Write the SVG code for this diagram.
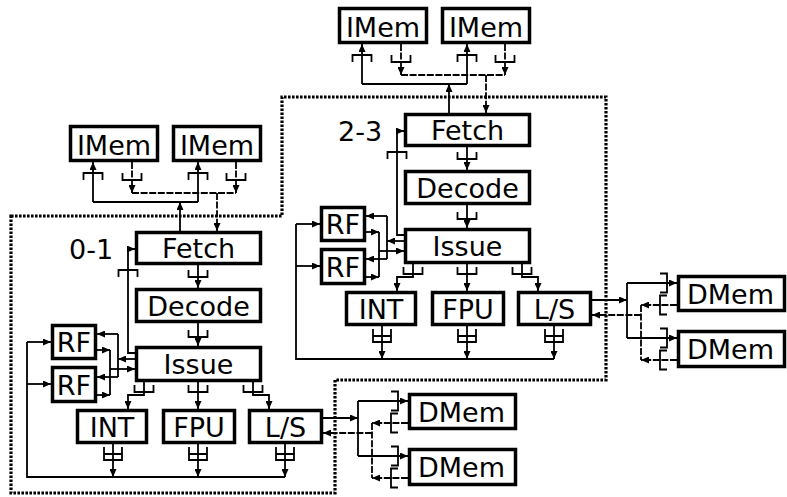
<svg xmlns="http://www.w3.org/2000/svg" xmlns:xlink="http://www.w3.org/1999/xlink" width="787" height="497" viewBox="0 0 787 497">
<style>
.box{fill:#fff;stroke:#000;stroke-width:3.5}
.t{font-family:"DejaVu Sans","Liberation Sans",sans-serif;font-size:27px;fill:#000;text-anchor:middle}
.lbl{font-family:"DejaVu Sans","Liberation Sans",sans-serif;font-size:27px;fill:#000}
.ln{fill:none;stroke:#000;stroke-width:1.8}
.ds{stroke-dasharray:7 1.6}
.ar{marker-end:url(#ah)}
.border{fill:none;stroke:#000;stroke-width:3.2;stroke-dasharray:2.6 1.4}
</style>
<defs>
<marker id="ah" viewBox="0 0 8 7" refX="8" refY="3.5" markerWidth="8" markerHeight="7" orient="auto" markerUnits="userSpaceOnUse"><path d="M0,0L8,3.5L0,7z" fill="#000" stroke="none"/></marker>
<path id="bD" d="M-9.5,-7V0H9.5V-7"/>
<path id="bU" d="M-9.5,7V0H9.5V7"/>
<path id="bR" d="M-7,-9.5H0V9.5H-7"/>
<path id="bL" d="M7,-9.5H0V9.5H7"/>
<path id="bD2" d="M-9,-13V0H9V-13M-9,-6H9"/>
</defs>
<rect width="787" height="497" fill="#fff"/>
<polygon class="border" points="11,216 282,216 282,97 606,97 606,380 335,380 335,493 11,493"/>

<g id="connectors">
<g id="conn01">
<path class="ln ar" d="M180,231V202"/>
<path class="ln" d="M93,202H198"/>
<path class="ln ar" d="M93,202V162"/>
<path class="ln ar" d="M198,202V162"/>
<use href="#bU" class="ln" x="93" y="173"/>
<use href="#bU" class="ln" x="198" y="173"/>
<path class="ln ds ar" d="M132,162V193"/>
<path class="ln ds ar" d="M236,162V193"/>
<path class="ln ds" d="M132,193H236"/>
<path class="ln ds ar" d="M217,193V231"/>
<use href="#bD" class="ln" x="132" y="180"/>
<use href="#bD" class="ln" x="236" y="180"/>
<path class="ln ar" d="M198,265V288"/>
<use href="#bD" class="ln" x="198" y="277"/>
<path class="ln ar" d="M198,323V346"/>
<use href="#bD" class="ln" x="198" y="337"/>
<path class="ln ar" d="M135,353H128V249H135"/>
<use href="#bU" class="ln" x="128" y="270"/>
<path class="ln ar" d="M135,359H118"/>
<path class="ln" d="M118,334V377"/>
<path class="ln ar" d="M118,334H97"/>
<path class="ln ar" d="M118,377H97"/>
<path class="ln ar" d="M97,350H110"/>
<path class="ln ar" d="M97,395H110"/>
<path class="ln" d="M110,350V395"/>
<path class="ln ar" d="M110,369H135"/>
<path class="ln ar" d="M144,382V395H128V409"/>
<path class="ln ar" d="M198,382V409"/>
<path class="ln ar" d="M253,382V395H269V409"/>
<use href="#bD" class="ln" x="144" y="392"/>
<use href="#bD" class="ln" x="198" y="392"/>
<use href="#bD" class="ln" x="253" y="392"/>
<path class="ln ar" d="M113,444V477"/>
<path class="ln ar" d="M198,444V477"/>
<path class="ln ar" d="M285,444V477"/>
<use href="#bD2" class="ln" x="113" y="460"/>
<use href="#bD2" class="ln" x="198" y="460"/>
<use href="#bD2" class="ln" x="285" y="460"/>
<path class="ln" d="M285,477H27V342"/>
<path class="ln ar" d="M27,342H51"/>
<path class="ln ar" d="M27,384H51"/>
<path class="ln ar" d="M323,418H358"/>
<path class="ln" d="M358,401V456"/>
<path class="ln ar" d="M358,401H408"/>
<path class="ln ar" d="M358,456H408"/>
<use href="#bR" class="ln" x="398" y="401"/>
<use href="#bR" class="ln" x="398" y="456"/>
<path class="ln ds ar" d="M408,423H372"/>
<path class="ln ds ar" d="M408,478H372"/>
<path class="ln ds" d="M372,423V478"/>
<path class="ln ds ar" d="M372,433H323"/>
<use href="#bL" class="ln" x="391" y="423"/>
<use href="#bL" class="ln" x="391" y="478"/>
</g>
<g id="conn23" transform="translate(269,-118)">
<path class="ln ar" d="M180,231V202"/>
<path class="ln" d="M93,202H198"/>
<path class="ln ar" d="M93,202V162"/>
<path class="ln ar" d="M198,202V162"/>
<use href="#bU" class="ln" x="93" y="173"/>
<use href="#bU" class="ln" x="198" y="173"/>
<path class="ln ds ar" d="M132,162V193"/>
<path class="ln ds ar" d="M236,162V193"/>
<path class="ln ds" d="M132,193H236"/>
<path class="ln ds ar" d="M217,193V231"/>
<use href="#bD" class="ln" x="132" y="180"/>
<use href="#bD" class="ln" x="236" y="180"/>
<path class="ln ar" d="M198,265V288"/>
<use href="#bD" class="ln" x="198" y="277"/>
<path class="ln ar" d="M198,323V346"/>
<use href="#bD" class="ln" x="198" y="337"/>
<path class="ln ar" d="M135,353H128V249H135"/>
<use href="#bU" class="ln" x="128" y="270"/>
<path class="ln ar" d="M135,359H118"/>
<path class="ln" d="M118,334V377"/>
<path class="ln ar" d="M118,334H97"/>
<path class="ln ar" d="M118,377H97"/>
<path class="ln ar" d="M97,350H110"/>
<path class="ln ar" d="M97,395H110"/>
<path class="ln" d="M110,350V395"/>
<path class="ln ar" d="M110,369H135"/>
<path class="ln ar" d="M144,382V395H128V409"/>
<path class="ln ar" d="M198,382V409"/>
<path class="ln ar" d="M253,382V395H269V409"/>
<use href="#bD" class="ln" x="144" y="392"/>
<use href="#bD" class="ln" x="198" y="392"/>
<use href="#bD" class="ln" x="253" y="392"/>
<path class="ln ar" d="M113,444V477"/>
<path class="ln ar" d="M198,444V477"/>
<path class="ln ar" d="M285,444V477"/>
<use href="#bD2" class="ln" x="113" y="460"/>
<use href="#bD2" class="ln" x="198" y="460"/>
<use href="#bD2" class="ln" x="285" y="460"/>
<path class="ln" d="M285,477H27V342"/>
<path class="ln ar" d="M27,342H51"/>
<path class="ln ar" d="M27,384H51"/>
<path class="ln ar" d="M323,418H358"/>
<path class="ln" d="M358,401V456"/>
<path class="ln ar" d="M358,401H408"/>
<path class="ln ar" d="M358,456H408"/>
<use href="#bR" class="ln" x="398" y="401"/>
<use href="#bR" class="ln" x="398" y="456"/>
<path class="ln ds ar" d="M408,423H372"/>
<path class="ln ds ar" d="M408,478H372"/>
<path class="ln ds" d="M372,423V478"/>
<path class="ln ds ar" d="M372,433H323"/>
<use href="#bL" class="ln" x="391" y="423"/>
<use href="#bL" class="ln" x="391" y="478"/>
</g>
</g>

<g id="nodes01">
<text class="lbl" x="69" y="259">0-1</text>
<g id="imem0"><rect class="box" x="70.5" y="126.5" width="87" height="34"/><text class="t" x="114" y="154.5" font-size="29">IMem</text></g>
<g id="imem1"><rect class="box" x="173.5" y="126.5" width="87" height="34"/><text class="t" x="217" y="154.5" font-size="29">IMem</text></g>
<g id="fetch01"><rect class="box" x="136.5" y="232.5" width="124" height="31"/><text class="t" x="198.5" y="258">Fetch</text></g>
<g id="decode01"><rect class="box" x="136.5" y="289.5" width="124" height="32"/><text class="t" x="198.5" y="315.5">Decode</text></g>
<g id="issue01"><rect class="box" x="136.5" y="347.5" width="124" height="33"/><text class="t" x="198.5" y="374">Issue</text></g>
<g id="rf0"><rect class="box" x="52.5" y="325.5" width="43" height="33"/><text class="t" x="74" y="352" font-size="28">RF</text></g>
<g id="rf1"><rect class="box" x="52.5" y="367.5" width="43" height="34"/><text class="t" x="74" y="394.5" font-size="28">RF</text></g>
<g id="int01"><rect class="box" x="77.5" y="410.5" width="69" height="32"/><text class="t" x="112" y="436.5">INT</text></g>
<g id="fpu01"><rect class="box" x="163.5" y="410.5" width="71" height="32"/><text class="t" x="199" y="436.5">FPU</text></g>
<g id="ls01"><rect class="box" x="249.5" y="410.5" width="72" height="32"/><text class="t" x="285.5" y="436.5" font-size="28">L/S</text></g>
<g id="dmem0"><rect class="box" x="409.5" y="394.5" width="106" height="34"/><text class="t" x="461.5" y="421.5" font-size="28">DMem</text></g>
<g id="dmem1"><rect class="box" x="409.5" y="449.5" width="106" height="35"/><text class="t" x="461.5" y="477" font-size="28">DMem</text></g>
</g>

<g id="nodes23" transform="translate(269,-118)">
<text class="lbl" x="69" y="259">2-3</text>
<g id="imem2"><rect class="box" x="70.5" y="126.5" width="87" height="34"/><text class="t" x="114" y="154.5" font-size="29">IMem</text></g>
<g id="imem3"><rect class="box" x="173.5" y="126.5" width="87" height="34"/><text class="t" x="217" y="154.5" font-size="29">IMem</text></g>
<g id="fetch23"><rect class="box" x="136.5" y="232.5" width="124" height="31"/><text class="t" x="198.5" y="258">Fetch</text></g>
<g id="decode23"><rect class="box" x="136.5" y="289.5" width="124" height="32"/><text class="t" x="198.5" y="315.5">Decode</text></g>
<g id="issue23"><rect class="box" x="136.5" y="347.5" width="124" height="33"/><text class="t" x="198.5" y="374">Issue</text></g>
<g id="rf2"><rect class="box" x="52.5" y="325.5" width="43" height="33"/><text class="t" x="74" y="352" font-size="28">RF</text></g>
<g id="rf3"><rect class="box" x="52.5" y="367.5" width="43" height="34"/><text class="t" x="74" y="394.5" font-size="28">RF</text></g>
<g id="int23"><rect class="box" x="77.5" y="410.5" width="69" height="32"/><text class="t" x="112" y="436.5">INT</text></g>
<g id="fpu23"><rect class="box" x="163.5" y="410.5" width="71" height="32"/><text class="t" x="199" y="436.5">FPU</text></g>
<g id="ls23"><rect class="box" x="249.5" y="410.5" width="72" height="32"/><text class="t" x="285.5" y="436.5" font-size="28">L/S</text></g>
<g id="dmem2"><rect class="box" x="409.5" y="394.5" width="106" height="34"/><text class="t" x="461.5" y="421.5" font-size="28">DMem</text></g>
<g id="dmem3"><rect class="box" x="409.5" y="449.5" width="106" height="35"/><text class="t" x="461.5" y="477" font-size="28">DMem</text></g>
</g>
</svg>
